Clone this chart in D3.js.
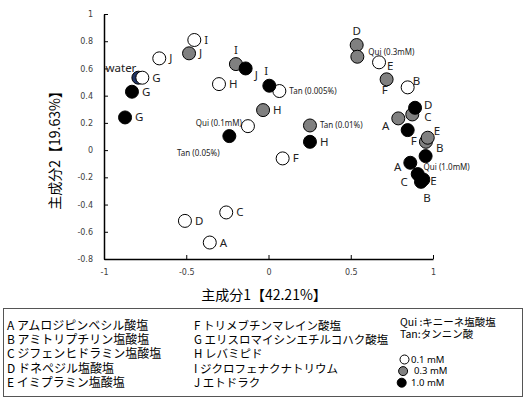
<!DOCTYPE html>
<html>
<head>
<meta charset="utf-8">
<script src="https://cdn.jsdelivr.net/npm/d3@7"></script>
<style>
  body{margin:0;background:#fff;}
</style>
</head>
<body>
<div id="viz-container"></div>
<script>

// PCA scores: [name, PC1, PC2]
let low = [ // 0.1 mM (white)
  ["A",-0.357,-0.679],["C",-0.257,-0.458],["D",-0.508,-0.52],["E",0.672,0.645],
  ["B",0.846,0.461],["F",0.086,-0.061],["G",-0.767,0.532],["H",-0.301,0.485],
  ["I",-0.451,0.809],["J",-0.664,0.674],["Qui",-0.125,0.176],["Tan",0.066,0.434]
];
let mid = [ // 0.3 mM (gray)
  ["A",0.789,0.233],["B",0.957,0.061],["C",0.874,0.262],["D",0.536,0.772],
  ["E",0.968,0.091],["F",0.718,0.52],["H",-0.033,0.294],["I",-0.198,0.632],
  ["J",-0.483,0.711],["Qui",0.54,0.686],["Tan",0.252,0.181]
];
let high = [ // 1.0 mM (black)
  ["A",0.862,-0.093],["C",0.907,-0.176],["B",0.927,-0.233],["E",0.941,-0.216],
  ["D",0.891,0.311],["F",0.846,0.147],["G",-0.83,0.429],["G",-0.872,0.24],
  ["H",0.252,0.061],["I",0.005,0.473],["J",-0.139,0.6],["Qui",0.955,-0.044],
  ["Tan",-0.238,0.103]
];
let water = [["water",-0.791,0.532]];

// text shown next to Qui / Tan for each level
let quiText = {low:"Qui (0.1mM)", mid:"Qui (0.3mM)", high:"Qui (1.0mM)"};
let tanText = {low:"Tan (0.005%)", mid:"Tan (0.01%)", high:"Tan (0.05%)"};

let xTicks = [-1,-0.5,0,0.5,1];
let yTicks = [-0.8,-0.6,-0.4,-0.2,0,0.2,0.4,0.6,0.8,1];

let legendCol1 = ["A アムロジピンベシル酸塩","B アミトリプチリン塩酸塩","C ジフェンヒドラミン塩酸塩","D ドネペジル塩酸塩","E イミプラミン塩酸塩"];
let legendCol2 = ["F トリメブチンマレイン酸塩","G エリスロマイシンエチルコハク酸塩","H レバミピド","I ジクロフェナクナトリウム","J エトドラク"];
let legendCol3 = ["Qui :キニーネ塩酸塩","Tan:タンニン酸"];
let concLabels = ["0.1 mM","0.3 mM","1.0 mM"];

// label placement: [dx, dy, anchor]  (default = right of the dot)
let labelPlace = {
  "mid-I":[0,-10,"middle"], "high-J":[9,11,"start"], "high-I":[-3,-11,"middle"],
  "low-Tan":[10,3,"start"], "low-Qui":[-6,0,"end"], "high-Tan":[-31,20,"middle"],
  "water":[-2,-6,"end"], "mid-D":[0,-10,"middle"], "mid-Qui":[11,-2,"start"],
  "low-E":[8,8,"start"], "mid-F":[-2,15,"middle"], "low-B":[5,-2,"start"],
  "high-D":[9,1,"start"], "mid-C":[12,7,"start"], "mid-A":[-9,12,"end"],
  "high-F":[6,15,"middle"], "mid-E":[6,-3,"start"], "mid-B":[10,10,"start"],
  "high-Qui":[-2,14,"start"], "high-A":[-9,8,"end"], "high-C":[-10,12,"end"],
  "high-E":[7,5,"start"], "high-B":[6,20,"middle"], "mid-Tan":[10,3,"start"]
};

let viz = d3.select("#viz-container")
    .append("svg")
    .attr("width",527)
    .attr("height",399)
;

let x = d3.scaleLinear().domain([-1,1]).range([104,433]);
let y = d3.scaleLinear().domain([-0.8,1]).range([259,14]);

function fmt(d){
  return String(+d.toFixed(1));
}

let yAxis = viz.append("g")
    .attr("transform","translate(104,0)")
    .call(d3.axisLeft(y).tickValues(yTicks).tickFormat(fmt).tickSizeInner(-4).tickSizeOuter(0).tickPadding(11))
;
let xAxis = viz.append("g")
    .attr("transform","translate(0,259)")
    .call(d3.axisBottom(x).tickValues(xTicks).tickFormat(fmt).tickSizeInner(-4).tickSizeOuter(0).tickPadding(10))
;
[xAxis,yAxis].forEach(function(a){
  a.select(".domain").attr("stroke","#000").attr("stroke-width",1.5);
  a.selectAll(".tick line").attr("stroke","#000").attr("stroke-width",1);
  a.selectAll(".tick text").attr("fill","#404040").style("font","8px 'DejaVu Sans'");
});

// axis titles
viz.append("text")
  .attr("x",264)
  .attr("y",300)
  .attr("text-anchor","middle")
  .style("font","14px 'Noto Sans CJK JP'")
  .text("主成分1【42.21%】")
;
viz.append("text")
  .attr("transform","translate(60,147) rotate(-90)")
  .attr("text-anchor","middle")
  .style("font","14px 'Noto Sans CJK JP'")
  .text("主成分2【19.63%】")
;

function labelText(d,level){
  if(d[0]=="Qui"){
    return quiText[level];
  }else if(d[0]=="Tan"){
    return tanText[level];
  }
  return d[0];
}

function place(d,level){
  return labelPlace[level=="water" ? "water" : level+"-"+d[0]] || [10,4,"start"];
}

function drawSeries(data,level,fill){
  let g = viz.append("g").attr("class","series-"+level);
  g.selectAll("circle").data(data).enter()
    .append("circle")
      .attr("cx",function(d){ return x(d[1]); })
      .attr("cy",function(d){ return y(d[2]); })
      .attr("r",6.5)
      .attr("fill",fill)
      .attr("stroke","#000")
      .attr("stroke-width",1)
  ;
  g.selectAll("text").data(data).enter()
    .append("text")
      .attr("x",function(d){ return x(d[1])+place(d,level)[0]; })
      .attr("y",function(d){ return y(d[2])+place(d,level)[1]; })
      .attr("text-anchor",function(d){ return place(d,level)[2]; })
      .attr("fill","#222")
      .style("font",function(d){
        return (d[0]=="Qui"||d[0]=="Tan") ? "8px 'Noto Sans'" : "11.5px 'Noto Sans'";
      })
      .text(function(d){ return level=="water" ? "water" : labelText(d,level); })
  ;
}

drawSeries(water,"water","#1f3364");
drawSeries(low,"low","#fff");
drawSeries(mid,"mid","#808080");
drawSeries(high,"high","#000");

// legend box
let legend = viz.append("g");
legend.append("rect")
  .attr("x",3.5)
  .attr("y",308.5)
  .attr("width",519)
  .attr("height",88)
  .attr("fill","none")
  .attr("stroke","#555")
  .attr("stroke-width",1)
;
legend.selectAll(".c1").data(legendCol1).enter()
  .append("text")
    .attr("x",7)
    .attr("y",function(d,i){ return 330+i*14.2; })
    .style("font","12px 'Noto Sans CJK JP'")
    .text(function(d){ return d; })
;
legend.selectAll(".c2").data(legendCol2).enter()
  .append("text")
    .attr("x",194)
    .attr("y",function(d,i){ return 330+i*14.2; })
    .style("font","11.5px 'Noto Sans CJK JP'")
    .text(function(d){ return d; })
;
legend.selectAll(".c3").data(legendCol3).enter()
  .append("text")
    .attr("x",400)
    .attr("y",function(d,i){ return 326+i*12; })
    .style("font","10.5px 'Noto Sans CJK JP'")
    .text(function(d){ return d; })
;
let legendFill = ["#fff","#808080","#000"];
legend.selectAll(".cc").data(concLabels).enter()
  .append("circle")
    .attr("cx",function(d,i){ return 404.5-i*1.4; })
    .attr("cy",function(d,i){ return 359.5+i*11.6; })
    .attr("r",4.5)
    .attr("fill",function(d,i){ return legendFill[i]; })
    .attr("stroke","#000")
;
legend.selectAll(".ct").data(concLabels).enter()
  .append("text")
    .attr("x",function(d,i){ return i==1 ? 414 : 411; })
    .attr("y",function(d,i){ return 362.7+i*11.6; })
    .style("font","9.5px 'Noto Sans'")
    .text(function(d){ return d; })
;

</script>
</body>
</html>
